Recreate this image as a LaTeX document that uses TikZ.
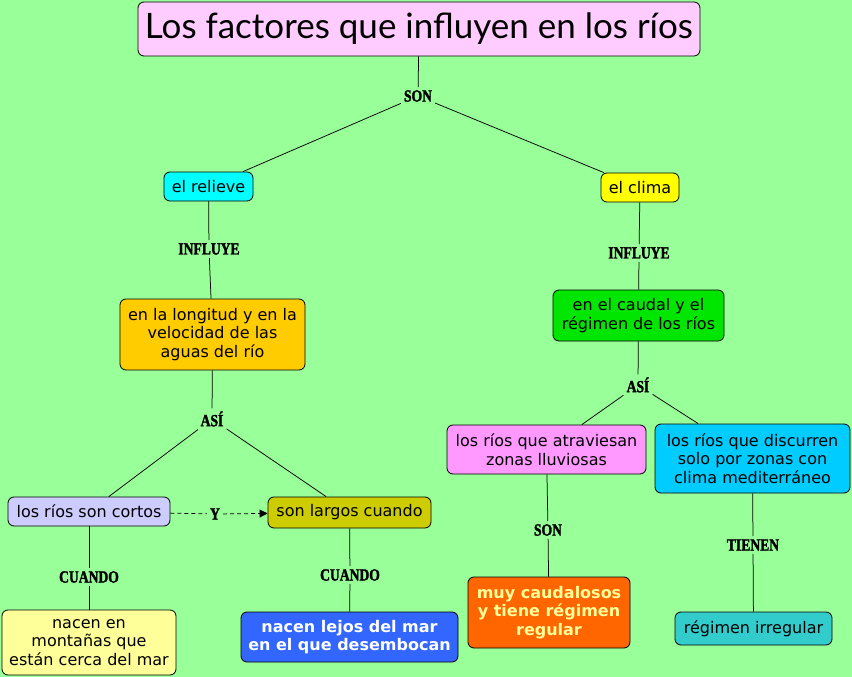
\documentclass[tikz,border=0pt]{standalone}
\usepackage{fontspec}
\setmainfont{DejaVu Sans}
\newfontfamily\titlefont{Lato}
\newfontfamily\lblfont[FakeStretch=0.8,BoldFeatures={FakeBold=1.8}]{Liberation Serif}
\usetikzlibrary{arrows.meta}
\definecolor{bg}{HTML}{99FF99}
\definecolor{ctitle}{HTML}{FFCCFF}
\definecolor{cyanb}{HTML}{00FFFF}
\definecolor{yelb}{HTML}{FFFF00}
\definecolor{orab}{HTML}{FFCC00}
\definecolor{greb}{HTML}{00E600}
\definecolor{lilb}{HTML}{CCCCFF}
\definecolor{olib}{HTML}{CCCC00}
\definecolor{ltyb}{HTML}{FFFF99}
\definecolor{blub}{HTML}{3366FF}
\definecolor{pinb}{HTML}{FF99FF}
\definecolor{skyb}{HTML}{00CCFF}
\definecolor{redb}{HTML}{FF6600}
\definecolor{teab}{HTML}{33CCCC}
\begin{document}
\begin{tikzpicture}[x=1pt,y=-1pt,
  bx/.style={draw=black, line width=0.8pt, rounded corners=6pt, align=center, inner sep=0pt,
    font=\fontsize{16}{18.5}\selectfont},
  lbl/.style={font=\fontsize{17}{17}\selectfont\lblfont\bfseries, inner sep=3pt},
  ln/.style={draw=black, line width=0.75pt}]
\fill[bg] (0,0) rectangle (852,677);
\useasboundingbox (0,0) rectangle (852,677);
% boxes
\node[bx, fill=ctitle, minimum width=562pt, minimum height=54pt,
  font=\fontsize{35}{38}\selectfont\titlefont] (title) at (419,29) {Los factores que influyen en los ríos};
\node[bx, fill=cyanb, minimum width=89pt, minimum height=29pt] (relieve) at (208.5,186.5) {el relieve};
\node[bx, fill=yelb, minimum width=78pt, minimum height=29pt] (clima) at (640,187.5) {el clima};
\node[bx, fill=orab, minimum width=185pt, minimum height=71pt] (longitud) at (212.5,334.5) {en la longitud y en la\\velocidad de las\\aguas del río};
\node[bx, fill=greb, minimum width=171pt, minimum height=51pt] (caudal) at (638.5,315.5) {en el caudal y el\\régimen de los ríos};
\node[bx, fill=lilb, minimum width=162pt, minimum height=29pt] (cortos) at (89,511.5) {los ríos son cortos};
\node[bx, fill=olib, minimum width=163pt, minimum height=31pt] (largos) at (349.5,512.5) {son largos cuando};
\node[bx, fill=ltyb, minimum width=174pt, minimum height=65pt] (montanas) at (89,642.5) {nacen en\\montañas que\\están cerca del mar};
\node[bx, fill=blub, text=white, minimum width=217pt, minimum height=50pt,
  font=\fontsize{16}{18.5}\selectfont\bfseries] (lejos) at (349.5,637) {nacen lejos del mar\\en el que desembocan};
\node[bx, fill=pinb, minimum width=199pt, minimum height=49pt] (atraviesan) at (546.5,449.5) {los ríos que atraviesan\\zonas lluviosas};
\node[bx, fill=skyb, minimum width=195pt, minimum height=69pt] (discurren) at (752.5,458.5) {los ríos que discurren\\solo por zonas con\\clima mediterráneo};
\node[bx, fill=redb, text=ltyb, minimum width=162pt, minimum height=71pt,
  font=\fontsize{16}{18.5}\selectfont\bfseries] (caudalosos) at (549,612.5) {muy caudalosos\\y tiene régimen\\regular};
\node[bx, fill=teab, minimum width=157pt, minimum height=33pt] (irregular) at (753.5,628.5) {régimen irregular};
% labels
\node[lbl] (son1) at (418,96) {SON};
\node[lbl] (inf1) at (209,249) {INFLUYE};
\node[lbl] (inf2) at (639,253) {INFLUYE};
\node[lbl] (asi1) at (212,419) {ASÍ};
\node[lbl] (asi2) at (638,385) {ASÍ};
\node[lbl] (yy) at (215,514) {Y};
\node[lbl] (cua1) at (89,577) {CUANDO};
\node[lbl] (cua2) at (350,575) {CUANDO};
\node[lbl] (son2) at (548,530) {SON};
\node[lbl] (tie) at (753,545) {TIENEN};
% connectors
\draw[ln] (title) -- (son1);
\draw[ln] (son1) -- (relieve);
\draw[ln] (son1) -- (clima);
\draw[ln] (relieve) -- (inf1);
\draw[ln] (inf1) -- (longitud);
\draw[ln] (clima) -- (inf2);
\draw[ln] (inf2) -- (caudal);
\draw[ln] (longitud) -- (asi1);
\draw[ln] (asi1) -- (cortos);
\draw[ln] (asi1) -- (largos);
\draw[ln] (caudal) -- (asi2);
\draw[ln] (asi2) -- (atraviesan);
\draw[ln] (asi2) -- (discurren);
\draw[ln, dash pattern=on 4pt off 3pt] (cortos) -- (yy);
\draw[ln, dash pattern=on 4pt off 3pt, -{Triangle[length=8pt,width=8pt]}] (yy) -- (largos);
\draw[ln] (cortos) -- (cua1);
\draw[ln] (cua1) -- (montanas);
\draw[ln] (largos) -- (cua2);
\draw[ln] (cua2) -- (lejos);
\draw[ln] (atraviesan) -- (son2);
\draw[ln] (son2) -- (caudalosos);
\draw[ln] (discurren) -- (tie);
\draw[ln] (tie) -- (irregular);
\end{tikzpicture}
\end{document}
